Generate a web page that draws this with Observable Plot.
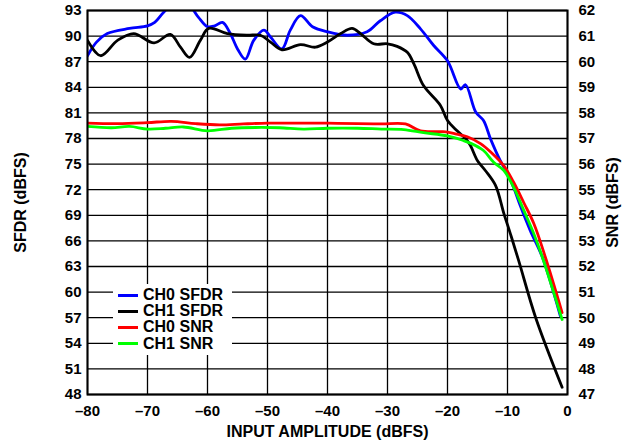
<!DOCTYPE html>
<html>
<head>
<meta charset="utf-8">
<script src="https://cdn.jsdelivr.net/npm/d3@7"></script>
<script src="https://cdn.jsdelivr.net/npm/@observablehq/plot@0.6"></script>
<style>
  html, body { margin: 0; padding: 0; background: #fff; }
  #chart { position: relative; width: 624px; height: 446px; font-family: "Liberation Sans", Arial, sans-serif; }
  .legend { position: absolute; left: 113px; top: 284px; width: 119px; height: 71px; background: #fff;
            box-sizing: border-box; padding-top: 3px; font-weight: bold; font-size: 16px; color: #000; }
  .legend .row { display: flex; align-items: center; height: 16.2px; }
  .legend .sw { width: 20px; height: 3px; margin-left: 5px; margin-right: 5px; }
</style>
</head>
<body>
<div id="chart"></div>
<script>
// Input amplitude sweep (dBFS)
const xTicks = [-80, -70, -60, -50, -40, -30, -20, -10, 0];
const sfdrTicks = [48, 51, 54, 57, 60, 63, 66, 69, 72, 75, 78, 81, 84, 87, 90, 93];
const snrTicks = [47, 48, 49, 50, 51, 52, 53, 54, 55, 56, 57, 58, 59, 60, 61, 62];

// CH0 SFDR (dBFS)
const ch0SfdrX = [-80, -78.5, -76.7, -73, -70, -68.8, -67.3, -65, -63, -61.5, -60, -58.8, -57.5, -56.2, -55, -53.7, -52.3, -50.6, -49.5, -47.6, -46.2, -44.5, -42.5, -40, -36.7, -33.4, -31.2, -28.7, -26.7, -24.5, -22.3, -20, -17.8, -17, -15.3, -14, -12.8, -11.2, -10, -9, -7.8, -6.2, -4.2, -1.2];
const ch0SfdrY = [87.7, 89.3, 90.3, 90.9, 91.2, 91.6, 92.8, 94.3, 93.6, 92.2, 91.1, 91.2, 91.6, 90.3, 88.5, 87.3, 89.5, 90.7, 89.9, 88.5, 90.7, 92.4, 91.1, 90.5, 90.1, 90.5, 91.8, 92.8, 92.4, 90.85, 88.9, 87.1, 83.8, 84.3, 81.1, 80.1, 77.9, 75.4, 73.9, 72.3, 70.0, 67.2, 64.1, 57.2];

// CH1 SFDR (dBFS)
const ch1SfdrX = [-80, -77.8, -75, -72.3, -68.9, -66.2, -64.5, -63, -61.2, -59.8, -56.7, -53.4, -51.2, -49.5, -47.6, -44.5, -42, -40, -37.8, -35.9, -34.5, -32.3, -30, -28.4, -26.7, -25.6, -24, -21.2, -20, -18.4, -17, -16.2, -15, -13.7, -12, -10.6, -9.5, -8.1, -5.3, -0.9];
const ch1SfdrY = [89.5, 87.7, 89.5, 90.3, 89.2, 90.2, 88.7, 87.5, 89.5, 90.9, 90.3, 90.1, 90.1, 89.3, 88.4, 89.0, 88.7, 89.3, 90.3, 90.9, 90.3, 89.1, 89.1, 88.8, 88.1, 86.75, 84.2, 81.9, 80.1, 78.9, 78.0, 77.2, 75.4, 74.25, 72.5, 69.2, 66.8, 63.6, 57.0, 48.85];

// CH0 SNR (dBFS, right axis)
const ch0SnrX = [-80, -75, -70, -66, -62, -58, -54, -50, -45, -40, -35, -31, -27, -24.5, -21, -20, -18.5, -16.7, -14.5, -12.8, -10.6, -9, -7.3, -5.6, -3.7, -0.9];
const ch0SnrY = [57.60, 57.58, 57.62, 57.67, 57.58, 57.53, 57.57, 57.60, 57.60, 57.60, 57.58, 57.57, 57.57, 57.30, 57.27, 57.25, 57.17, 57.07, 56.80, 56.47, 55.93, 55.30, 54.50, 53.67, 52.37, 50.20];

// CH1 SNR (dBFS, right axis)
const ch1SnrX = [-80, -76, -73, -70, -67, -64, -60, -56, -52, -48, -44, -40, -35, -31, -27.3, -24, -20, -17.5, -16.2, -14, -12.3, -10.6, -9, -7.3, -5.6, -4.2, -0.9];
const ch1SnrY = [57.47, 57.42, 57.47, 57.37, 57.40, 57.45, 57.30, 57.40, 57.43, 57.42, 57.37, 57.40, 57.40, 57.37, 57.35, 57.23, 57.10, 56.93, 56.82, 56.53, 56.07, 55.75, 55.10, 54.20, 53.27, 52.37, 49.93];

const series = [
  {name: "CH0 SFDR", color: "#0000ff", xs: ch0SfdrX, ys: ch0SfdrY, snr: false},
  {name: "CH1 SFDR", color: "#000000", xs: ch1SfdrX, ys: ch1SfdrY, snr: false},
  {name: "CH0 SNR", color: "#ff0000", xs: ch0SnrX, ys: ch0SnrY, snr: true},
  {name: "CH1 SNR", color: "#00ff00", xs: ch1SnrX, ys: ch1SnrY, snr: true}
];

// SNR is drawn against the right axis: 47..62 maps onto the SFDR range 48..93
const snrToSfdr = s => 48 + (s - 47) * 3;
const sfdrToSnr = v => 47 + (v - 48) / 3;

const rows = series.flatMap(s => s.xs.map((x, i) => ({
  series: s.name, x, y: s.snr ? snrToSfdr(s.ys[i]) : s.ys[i]
})));

const dash = d => d === 0 ? "0" : "\u2013" + Math.abs(d);
const titleStyle = {fontSize: 16, fontWeight: "bold", fill: "#000"};

const plot = Plot.plot({
  width: 624,
  height: 446,
  marginTop: 10,
  marginRight: 57,
  marginBottom: 52,
  marginLeft: 87,
  style: {fontFamily: "'Liberation Sans', Arial, sans-serif", fontWeight: "bold", fontSize: "15px", color: "#000", background: "#fff", overflow: "visible"},
  x: {domain: [-80, 0]},
  y: {domain: [48, 93]},
  color: {domain: series.map(s => s.name), range: series.map(s => s.color)},
  marks: [
    Plot.gridX(xTicks, {stroke: "#000", strokeOpacity: 1, strokeWidth: 1.3}),
    Plot.gridY(sfdrTicks, {stroke: "#000", strokeOpacity: 1, strokeWidth: 1.3}),
    Plot.line(rows, {x: "x", y: "y", z: "series", stroke: "series", strokeWidth: 2.8, curve: "catmull-rom", clip: true}),
    Plot.frame({stroke: "#000", strokeWidth: 2}),
    Plot.axisX(xTicks, {tickSize: 0, tickPadding: 11, tickFormat: dash, label: null}),
    Plot.axisY(sfdrTicks, {anchor: "left", tickSize: 0, tickPadding: 6, label: null}),
    Plot.axisY(snrTicks.map(snrToSfdr), {anchor: "right", tickSize: 0, tickPadding: 11, tickFormat: d => String(Math.round(sfdrToSnr(d))), label: null}),
    // Axis titles
    Plot.text(["INPUT AMPLITUDE (dBFS)"], {frameAnchor: "bottom", dy: 42, ...titleStyle}),
    Plot.text(["SFDR (dBFS)"], {frameAnchor: "left", rotate: -90, dx: -67, textAnchor: "middle", ...titleStyle}),
    Plot.text(["SNR (dBFS)"], {frameAnchor: "right", rotate: -90, dx: 45, textAnchor: "middle", ...titleStyle})
  ]
});

const chart = document.getElementById("chart");
chart.appendChild(plot);

// Legend box inside the plot area
const legend = document.createElement("div");
legend.className = "legend";
for (const s of series) {
  const row = document.createElement("div");
  row.className = "row";
  const sw = document.createElement("span");
  sw.className = "sw";
  sw.style.background = s.color;
  const label = document.createElement("span");
  label.textContent = s.name;
  row.appendChild(sw);
  row.appendChild(label);
  legend.appendChild(row);
}
chart.appendChild(legend);
</script>
</body>
</html>
